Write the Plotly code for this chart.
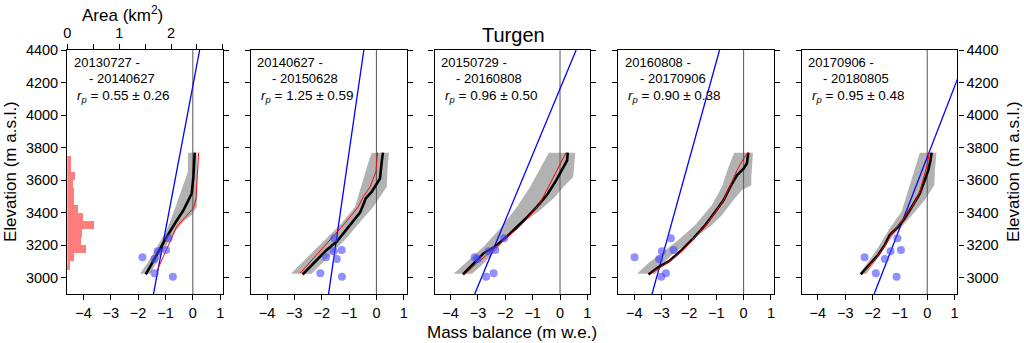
import plotly.graph_objects as go

# ---------------- data ----------------
period_start = ["20130727", "20140627", "20150729", "20160808", "20170906"]
period_end = ["20140627", "20150628", "20160808", "20170906", "20180805"]
rp_value = ["0.55", "1.25", "0.96", "0.90", "0.95"]
rp_error = ["0.26", "0.59", "0.50", "0.38", "0.48"]

# glacier hypsometry (panel 1, top axis), 50 m bins
hyps_elev = [3075, 3125, 3175, 3225, 3275, 3325, 3375, 3425, 3475, 3525, 3575, 3625, 3675, 3725]
hyps_area = [0.06, 0.14, 0.36, 0.27, 0.28, 0.52, 0.30, 0.22, 0.14, 0.14, 0.12, 0.16, 0.08, 0.08]

# stake observations
stake_elev = [3243, 3171, 3163, 3126, 3115, 3028, 3006]
stake_mb = [
    [-0.88, -0.98, -1.29, -1.84, -1.40, -1.40, -0.73],
    [-1.54, -1.27, -1.56, -1.84, -1.45, -2.05, -1.26],
    [-2.04, -2.37, -2.61, -3.12, -3.01, -2.43, -2.70],
    [-2.66, -2.56, -2.99, -3.99, -3.09, -2.84, -3.01],
    [-1.09, -0.96, -1.34, -2.29, -1.55, -1.88, -1.12],
]

# linear fit to stakes (blue line): mass balance at 2900 m and 4400 m
fit_elev = [2900, 4400]
fit_mb = [
    [-1.44, 0.25],
    [-1.75, -0.46],
    [-3.12, 0.59],
    [-3.35, -0.88],
    [-1.94, 1.52],
]

# modelled profile (black)
black_mb = [
    [-1.72, -1.26, -0.95, -0.65, -0.34, -0.04, 0.02, 0.07],
    [-2.70, -2.18, -1.82, -1.45, -1.15, -0.90, -0.60, -0.51, -0.39, -0.17, 0.01, 0.13, 0.20, 0.24],
    [-3.55, -3.16, -2.79, -2.37, -1.94, -1.57, -1.21, -0.84, -0.48, -0.17, 0.11, 0.26, 0.28],
    [-3.48, -3.11, -2.74, -2.26, -1.83, -1.40, -1.04, -0.73, -0.49, -0.24, 0.00, 0.12, 0.17],
    [-2.43, -2.16, -1.79, -1.55, -1.37, -1.06, -0.82, -0.45, -0.27, -0.09, 0.04, 0.12, 0.16],
]
black_elev = [
    [3020, 3161, 3253, 3335, 3416, 3518, 3620, 3769],
    [3020, 3110, 3171, 3222, 3284, 3335, 3400, 3437, 3488, 3529, 3580, 3610, 3722, 3769],
    [3020, 3090, 3151, 3192, 3253, 3314, 3371, 3437, 3508, 3590, 3682, 3722, 3769],
    [3020, 3065, 3100, 3171, 3243, 3324, 3406, 3478, 3559, 3631, 3671, 3702, 3769],
    [3020, 3069, 3141, 3202, 3263, 3314, 3365, 3467, 3518, 3600, 3661, 3722, 3769],
]

# second profile (red)
red_mb = [
    [-1.32, -1.13, -0.83, -0.59, -0.28, 0.02, 0.12, 0.17, 0.21],
    [-2.79, -2.24, -1.88, -1.51, -1.15, -0.66, -0.48, -0.23, -0.02, 0.04],
    [-3.43, -3.04, -2.67, -2.30, -1.82, -1.45, -1.09, -0.78, -0.48, -0.17, 0.07, 0.22],
    [-3.38, -2.99, -2.62, -2.20, -1.77, -1.40, -1.04, -0.73, -0.49, -0.24, 0.00, 0.16],
    [-2.34, -2.04, -1.73, -1.49, -1.30, -1.00, -0.76, -0.51, -0.27, -0.11, 0.01, 0.07],
]
red_elev = [
    [3039, 3110, 3233, 3314, 3371, 3427, 3488, 3641, 3769],
    [3028, 3131, 3192, 3263, 3335, 3437, 3498, 3559, 3651, 3769],
    [3028, 3090, 3141, 3196, 3263, 3318, 3386, 3447, 3539, 3641, 3722, 3769],
    [3028, 3069, 3110, 3171, 3249, 3320, 3400, 3478, 3569, 3661, 3733, 3769],
    [3028, 3090, 3151, 3212, 3273, 3331, 3386, 3447, 3529, 3620, 3702, 3769],
]

# uncertainty band (grey): left edge bottom->top, right edge top->bottom
band_left_mb = [
    [-1.93, -1.62, -1.26, -0.95, -0.65, -0.32, -0.18, -0.18],
    [-3.13, -2.73, -2.24, -1.76, -1.27, -0.78, -0.48, -0.29, -0.17],
    [-3.89, -3.40, -2.79, -2.18, -1.57, -1.09, -0.72, -0.41],
    [-3.90, -3.48, -2.99, -2.38, -1.77, -1.16, -0.79, -0.55, -0.34],
    [-2.49, -2.10, -1.73, -1.37, -0.94, -0.51, -0.27],
]
band_left_elev = [
    [3024, 3100, 3202, 3294, 3427, 3580, 3651, 3769],
    [3024, 3090, 3171, 3253, 3335, 3437, 3610, 3712, 3769],
    [3024, 3100, 3192, 3304, 3437, 3559, 3671, 3769],
    [3024, 3090, 3151, 3233, 3324, 3447, 3559, 3682, 3769],
    [3024, 3110, 3202, 3304, 3406, 3631, 3769],
]
band_right_mb = [
    [0.15, 0.15, -0.04, -0.34, -0.65, -0.95, -1.26, -1.56],
    [0.46, 0.41, 0.38, 0.13, -0.11, -0.48, -0.84, -1.15, -1.51, -1.88, -2.18, -2.37],
    [0.56, 0.52, 0.48, 0.13, -0.23, -0.72, -1.21, -1.70, -2.12, -2.49, -2.91, -3.22],
    [0.34, 0.28, 0.28, -0.06, -0.37, -0.79, -1.16, -1.65, -2.13, -2.62, -2.99, -3.23],
    [0.34, 0.28, 0.26, -0.09, -0.45, -0.82, -1.18, -1.55, -1.85, -2.22],
]
band_right_elev = [
    [3769, 3437, 3386, 3345, 3284, 3202, 3110, 3024],
    [3769, 3682, 3559, 3498, 3437, 3365, 3294, 3233, 3171, 3110, 3059, 3024],
    [3769, 3682, 3620, 3559, 3488, 3416, 3355, 3284, 3212, 3141, 3069, 3024],
    [3769, 3620, 3569, 3539, 3478, 3386, 3324, 3263, 3202, 3141, 3080, 3024],
    [3769, 3661, 3569, 3478, 3406, 3335, 3273, 3192, 3110, 3024],
]

mb_ticks = [-4, -3, -2, -1, 0, 1]
elev_ticks = [3000, 3200, 3400, 3600, 3800, 4000, 4200, 4400]
area_ticks = [0, 1, 2]
area_minor_step = 0.5
mb_range = [-4.59, 1.1]
elev_range = [2900, 4400]
area_range = [0, 3]

# ---------------- layout geometry ----------------
W, H = 1024, 343
ML, MR, MT, MB = 67, 66, 50, 49
PW = W - ML - MR
PH = H - MT - MB
panel_left_px = [67.3 + 183.6 * i for i in range(5)]
panel_w_px = 155.6

FONT = "Liberation Sans, Arial, sans-serif"

fig = go.Figure()


def ax(i, kind):
    return kind if i == 0 else f"{kind}{i + 1}"


for i in range(5):
    xa, ya = ax(i, "x"), ax(i, "y")
    # grey band
    fig.add_trace(go.Scatter(
        x=band_left_mb[i] + band_right_mb[i],
        y=band_left_elev[i] + band_right_elev[i],
        fill="toself", fillcolor="rgb(178,178,178)", mode="lines",
        line=dict(width=0, color="rgb(178,178,178)"),
        xaxis=xa, yaxis=ya, hoverinfo="skip", showlegend=False))
    # zero line
    fig.add_trace(go.Scatter(
        x=[0, 0], y=elev_range, mode="lines",
        line=dict(color="#555555", width=1),
        xaxis=xa, yaxis=ya, hoverinfo="skip", showlegend=False))
    # blue fit line
    fig.add_trace(go.Scatter(
        x=fit_mb[i], y=fit_elev, mode="lines",
        line=dict(color="#0000ff", width=1.3),
        xaxis=xa, yaxis=ya, showlegend=False))
    # black profile
    fig.add_trace(go.Scatter(
        x=black_mb[i], y=black_elev[i], mode="lines",
        line=dict(color="black", width=2.6),
        xaxis=xa, yaxis=ya, showlegend=False))
    # red profile
    fig.add_trace(go.Scatter(
        x=red_mb[i], y=red_elev[i], mode="lines",
        line=dict(color="#ff0000", width=1),
        xaxis=xa, yaxis=ya, showlegend=False))
    # stakes
    fig.add_trace(go.Scatter(
        x=stake_mb[i], y=stake_elev, mode="markers",
        marker=dict(color="rgba(70,70,255,0.6)", size=8, line=dict(width=0)),
        xaxis=xa, yaxis=ya, showlegend=False))

# hypsometry bars on a top axis of panel 1
fig.add_trace(go.Bar(
    x=hyps_area, y=hyps_elev, orientation="h", width=50,
    marker=dict(color="rgb(255,125,125)", line=dict(width=0)),
    xaxis="x6", yaxis="y", showlegend=False))

layout = dict(
    width=W, height=H,
    margin=dict(l=ML, r=MR, t=MT, b=MB, pad=0),
    plot_bgcolor="white", paper_bgcolor="white",
    font=dict(family=FONT, size=14, color="black"),
    bargap=0,
)

for i in range(5):
    d0 = (panel_left_px[i] - ML) / PW
    d1 = (panel_left_px[i] + panel_w_px - ML) / PW
    xname = "xaxis" if i == 0 else f"xaxis{i + 1}"
    yname = "yaxis" if i == 0 else f"yaxis{i + 1}"
    layout[xname] = dict(
        domain=[d0, d1], range=mb_range, tickvals=mb_ticks,
        ticks="outside", ticklen=5, tickwidth=1.2, tickcolor="black",
        showline=True, linecolor="black", linewidth=1.4, mirror=True,
        showgrid=False, zeroline=False, anchor=ax(i, "y"),
        tickfont=dict(size=14.5, family=FONT))
    layout[yname] = dict(
        domain=[0, 1], range=elev_range, tickvals=elev_ticks,
        ticks="outside", ticklen=5, tickwidth=1.2, tickcolor="black",
        showline=True, linecolor="black", linewidth=1.4, mirror="ticks",
        showgrid=False, zeroline=False, anchor=ax(i, "x"),
        showticklabels=(i in (0, 4)), side=("right" if i == 4 else "left"),
        tickfont=dict(size=14.5, family=FONT))

layout["xaxis6"] = dict(
    overlaying="x", side="top", anchor="y", range=area_range,
    tickmode="array", tickvals=area_ticks,
    ticks="outside", ticklen=5, tickwidth=1.2, tickcolor="black",
    minor=dict(tick0=0, dtick=area_minor_step, ticks="outside", ticklen=5,
               tickwidth=1.2, tickcolor="black", showgrid=False),
    showline=False, showgrid=False, zeroline=False,
    tickfont=dict(size=14.5, family=FONT))

fig.update_layout(**layout)

annotations = []
for i in range(5):
    xr = "x domain" if i == 0 else f"x{i + 1} domain"
    yr = "y domain" if i == 0 else f"y{i + 1} domain"
    annotations.append(dict(
        text=f"{period_start[i]} -", x=4.5 / panel_w_px, y=(MT + PH - 62) / PH,
        xref=xr, yref=yr, xanchor="left", yanchor="middle", showarrow=False,
        font=dict(size=13, family=FONT)))
    annotations.append(dict(
        text=f"- {period_end[i]}", x=19.5 / panel_w_px, y=(MT + PH - 78) / PH,
        xref=xr, yref=yr, xanchor="left", yanchor="middle", showarrow=False,
        font=dict(size=13, family=FONT)))
    annotations.append(dict(
        text=f"<i>r</i><sub><i>p</i></sub> = {rp_value[i]} ± {rp_error[i]}",
        x=8 / panel_w_px, y=(MT + PH - 96) / PH,
        xref=xr, yref=yr, xanchor="left", yanchor="middle", showarrow=False,
        font=dict(size=13.5, family=FONT)))


def px_x(p):
    return (p - ML) / PW


def px_y(p):
    return (MT + PH - p) / PH


annotations += [
    dict(text="Turgen", x=px_x(513), y=px_y(35), xref="paper", yref="paper",
         xanchor="center", yanchor="middle", showarrow=False,
         font=dict(size=20, family=FONT)),
    dict(text="Mass balance (m w.e.)", x=px_x(512), y=px_y(332), xref="paper", yref="paper",
         xanchor="center", yanchor="middle", showarrow=False,
         font=dict(size=17, family=FONT)),
    dict(text="Area (km<sup>2</sup>)", x=px_x(122), y=px_y(14), xref="paper", yref="paper",
         xanchor="center", yanchor="middle", showarrow=False,
         font=dict(size=17, family=FONT)),
    dict(text="Elevation (m a.s.l.)", x=px_x(10), y=px_y(172), xref="paper", yref="paper",
         xanchor="center", yanchor="middle", showarrow=False, textangle=-90,
         font=dict(size=17, family=FONT)),
    dict(text="Elevation (m a.s.l.)", x=px_x(1013), y=px_y(172), xref="paper", yref="paper",
         xanchor="center", yanchor="middle", showarrow=False, textangle=-90,
         font=dict(size=17, family=FONT)),
]
fig.update_layout(annotations=annotations)

fig.write_html(
    "out.html",
    config={"displayModeBar": False},
    post_script="document.body.style.margin='0';document.body.style.overflow='hidden';",
)
